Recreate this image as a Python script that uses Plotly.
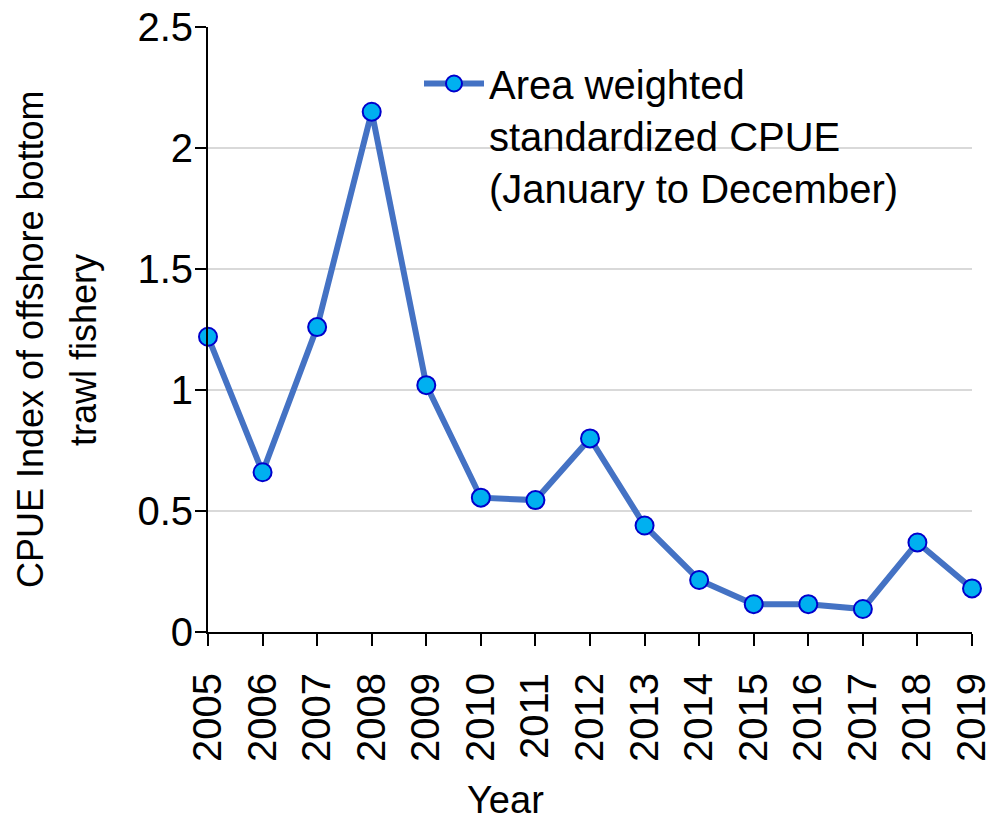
import plotly.graph_objects as go

# Area weighted standardized CPUE, offshore bottom trawl fishery
years = list(range(2005, 2020))
cpue = [1.22, 0.66, 1.26, 2.15, 1.02, 0.555, 0.545, 0.80, 0.44,
        0.215, 0.115, 0.115, 0.095, 0.37, 0.18]
series_name = "Area weighted<br>standardized CPUE<br>(January to December)"
y_ticks = [0, 0.5, 1, 1.5, 2, 2.5]

W, H = 988, 820
L, R, T, B = 208, 16, 27, 188
plot_w = W - L - R
plot_h = H - T - B


def px_x(p):
    return (p - L) / plot_w


def px_y(p):
    return (H - B - p) / plot_h


FONT = "Liberation Sans, Arial, sans-serif"

fig = go.Figure()
fig.add_trace(go.Scatter(
    x=years, y=cpue, name=series_name, mode="lines+markers",
    line=dict(color="#4472C4", width=6),
    marker=dict(size=18, color="#00B0F0", line=dict(color="#0000CC", width=2)),
    cliponaxis=False,
))

fig.update_layout(
    width=W, height=H,
    margin=dict(l=L, r=R, t=T, b=B, pad=0, autoexpand=False),
    paper_bgcolor="white", plot_bgcolor="white",
    font=dict(family=FONT, size=40, color="black"),
    showlegend=True,
    legend=dict(
        x=px_x(419), y=px_y(51), xanchor="left", yanchor="top",
        bgcolor="rgba(0,0,0,0)", font=dict(size=40, family=FONT),
        valign="top", itemwidth=60, tracegroupgap=0,
    ),
    xaxis=dict(
        range=[2005, 2019], tickvals=years, ticktext=[str(y) for y in years],
        tickangle=-90, showgrid=False, zeroline=False, automargin=False,
        showline=True, linecolor="black", linewidth=2,
        ticks="outside", ticklen=12, tickwidth=2, tickcolor="black",
        tickfont=dict(size=40), ticklabelstandoff=11, ticklabeloverflow="allow",
    ),
    yaxis=dict(
        range=[0, 2.5], tickvals=y_ticks, automargin=False,
        showgrid=True, gridcolor="#D9D9D9", gridwidth=2, zeroline=False,
        showline=True, linecolor="black", linewidth=2,
        ticks="outside", ticklen=11, tickwidth=2, tickcolor="black",
        tickfont=dict(size=40), ticklabelstandoff=-6, ticklabeloverflow="allow",
    ),
)

# Axis titles
fig.add_annotation(text="CPUE Index of offshore bottom", textangle=-90,
                   xref="paper", yref="paper", x=px_x(30), y=px_y(339),
                   xanchor="center", yanchor="middle", showarrow=False,
                   font=dict(size=36))
fig.add_annotation(text="trawl fishery", textangle=-90,
                   xref="paper", yref="paper", x=px_x(83), y=px_y(350),
                   xanchor="center", yanchor="middle", showarrow=False,
                   font=dict(size=36))
fig.add_annotation(text="Year", xref="paper", yref="paper",
                   x=px_x(505), y=px_y(800), xanchor="center", yanchor="middle",
                   showarrow=False, font=dict(size=38))

fig.write_html("out.html")
